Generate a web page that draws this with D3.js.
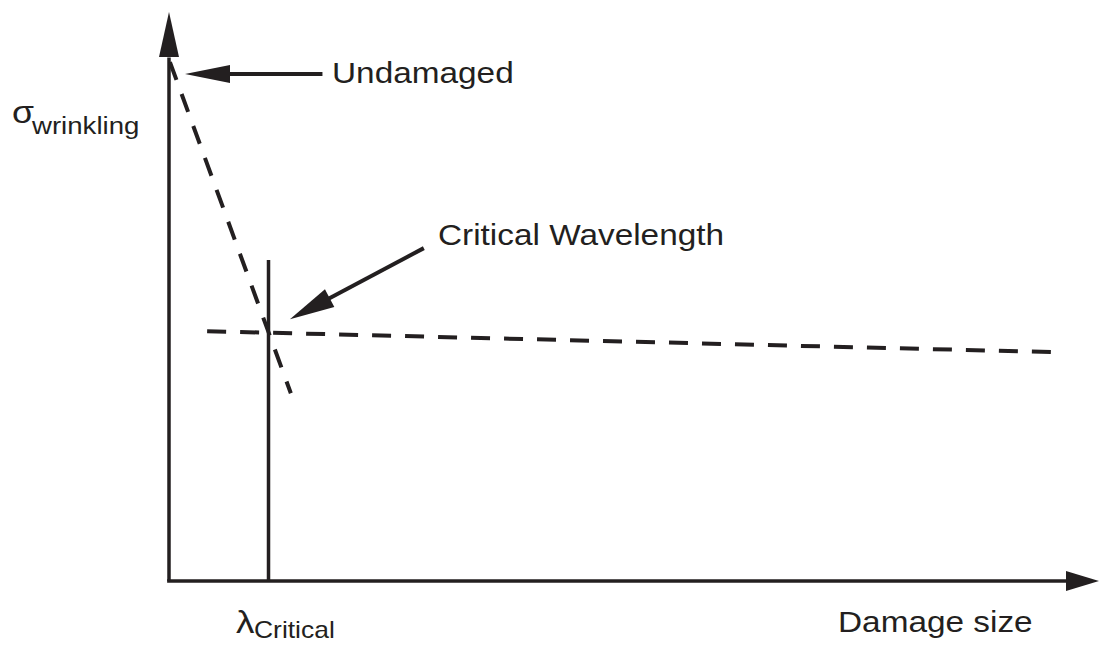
<!DOCTYPE html>
<html>
<head>
<meta charset="utf-8">
<script src="https://cdn.jsdelivr.net/npm/d3@7"></script>
<style>
  html, body { margin: 0; padding: 0; background: #fff; }
  svg { display: block; }
  text { font-family: "Liberation Sans", Arial, Helvetica, sans-serif; fill: #231f20; }
</style>
</head>
<body>
<svg id="chart" width="1102" height="650"></svg>
<script>
// ---- data (schematic units, 0..100 on both axes) ----
const xDomain = [0, 100];
const yDomain = [0, 100];
// undamaged (steep) wrinkling-strength trend
const steepLineX = [0.1, 13.1];
const steepLineY = [91.2, 33.0];
// flat trend beyond the critical wavelength
const flatLineX = [4.1, 95.7];
const flatLineY = [43.9, 40.2];
// critical wavelength marker
const criticalX = [10.7];
const criticalTop = [56.4];
// annotation arrows [fromX, fromY, toX, toY]
const undamagedArrow = [16.5, 89.1, 1.72, 89.1];
const criticalArrow = [27.4, 58.5, 13.0, 46.0];
// labels
const yLabelMain = "σ";
const yLabelSub = "wrinkling";
const xLabel = "Damage size";
const critLabelMain = "λ";
const critLabelSub = "Critical";
const undamagedLabel = "Undamaged";
const criticalLabel = "Critical Wavelength";

// ---- drawing ----
const svg = d3.select("#chart");
const x = d3.scaleLinear().domain(xDomain).range([169, 1099]);
const y = d3.scaleLinear().domain(yDomain).range([581, 12]);
const ink = "#231f20";
const SW = 3.5;
const stretch = 1.15;

function arrowHead(tipX, tipY, dx, dy, len, half) {
  const L = Math.hypot(dx, dy);
  const ux = dx / L, uy = dy / L;
  const bx = tipX - ux * len, by = tipY - uy * len;
  const px = -uy, py = ux;
  svg.append("path")
    .attr("d", `M${tipX},${tipY}L${bx + px * half},${by + py * half}L${bx - px * half},${by - py * half}Z`)
    .attr("fill", ink);
}

const line = d3.line().x(d => x(d[0])).y(d => y(d[1]));

// axes
svg.append("path").attr("d", line([[0, 0], [0, 92]]))
  .attr("stroke", ink).attr("stroke-width", SW).attr("fill", "none");
arrowHead(x(0), y(100), 0, -1, 45, 10);
svg.append("path").attr("d", line([[-0.2, 0], [96.5, 0]]))
  .attr("stroke", ink).attr("stroke-width", SW).attr("fill", "none");
arrowHead(x(100), y(0), 1, 0, 33, 10);

// dashed trends
svg.append("path").attr("d", line(d3.zip(steepLineX, steepLineY)))
  .attr("stroke", ink).attr("stroke-width", SW + 0.5).attr("fill", "none")
  .attr("stroke-dasharray", "19,15");
svg.append("path").attr("d", line(d3.zip(flatLineX, flatLineY)))
  .attr("stroke", ink).attr("stroke-width", SW + 0.5).attr("fill", "none")
  .attr("stroke-dasharray", "19,14");

// critical wavelength vertical
criticalX.forEach((cx, i) => {
  svg.append("path").attr("d", line([[cx, 0], [cx, criticalTop[i]]]))
    .attr("stroke", ink).attr("stroke-width", SW).attr("fill", "none");
});

// annotation arrows
[[undamagedArrow, 45, 9], [criticalArrow, 45, 10]].forEach(([a, len, half]) => {
  const x1 = x(a[0]), y1 = y(a[1]), x2 = x(a[2]), y2 = y(a[3]);
  const dx = x2 - x1, dy = y2 - y1, L = Math.hypot(dx, dy);
  svg.append("line")
    .attr("x1", x1).attr("y1", y1)
    .attr("x2", x2 - dx / L * (len - 5)).attr("y2", y2 - dy / L * (len - 5))
    .attr("stroke", ink).attr("stroke-width", SW + 0.5);
  arrowHead(x2, y2, dx, dy, len, half);
});

// text helper
function label(px, py, txt, size) {
  return svg.append("text")
    .attr("transform", `translate(${px},${py}) scale(${stretch},1)`)
    .attr("font-size", size)
    .text(txt);
}

label(332, 83, undamagedLabel, 29);
label(438, 245, criticalLabel, 29);
label(838, 632, xLabel, 29);

// y label sigma_wrinkling
label(12, 123, yLabelMain, 31);
label(32, 134, yLabelSub, 24);

// lambda_critical
label(236, 633, critLabelMain, 32);
label(254, 638, critLabelSub, 23);
</script>
</body>
</html>
